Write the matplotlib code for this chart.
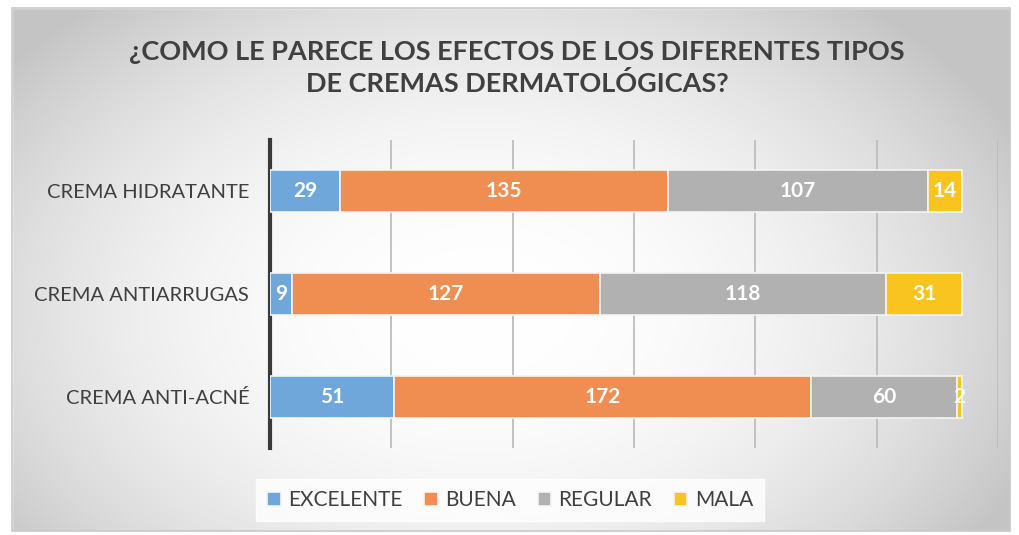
import numpy as np
import matplotlib.pyplot as plt
from matplotlib.patches import Rectangle

# __DATA__________________________
categorias = ['CREMA ANTI-ACNÉ', 'CREMA ANTIARRUGAS', 'CREMA HIDRATANTE']
series = ['EXCELENTE', 'BUENA', 'REGULAR', 'MALA']
excelente = [51, 9, 29]
buena = [172, 127, 135]
regular = [60, 118, 107]
mala = [2, 31, 14]
colores = ['#70A7DA', '#EF8E50', '#B1B1B1', '#F9C41F']

plt.rcParams['font.family'] = ['Lato', 'DejaVu Sans']

fig = plt.figure(figsize=(10.19, 5.35), dpi=100)

# __BACKGROUND__________________________
bg = fig.add_axes([0, 0, 1, 1], zorder=-10)
W, H = 1019, 535
yy, xx = np.mgrid[0:H, 0:W]
r = np.sqrt(((xx - 480) / 600.0) ** 2 + ((yy - 310) / 400.0) ** 2)
val = 1.0 - 0.23 * np.clip(r, 0, 1) ** 2.2
img = np.dstack([val, val, val])
bg.imshow(img, extent=[0, W, H, 0], aspect='auto', interpolation='bilinear')
# white outside the chart frame
bg.add_patch(Rectangle((0, 0), W, 8, color='white', zorder=2))
bg.add_patch(Rectangle((0, 0), 12, H, color='white', zorder=2))
bg.add_patch(Rectangle((1010, 0), 10, H, color='white', zorder=2))
bg.add_patch(Rectangle((0, 531), W, 5, color='white', zorder=2))
bg.add_patch(Rectangle((12, 8), 998, 523, fill=False, ec='#c8c8c8', lw=1.2, zorder=3))
bg.set_xlim(0, W)
bg.set_ylim(H, 0)
bg.axis('off')

# __BARS__________________________
ax = fig.add_axes([270 / W, 87 / H, 728 / W, 308 / H])
ax.patch.set_alpha(0)
ypos = np.arange(len(categorias))
valores = [excelente, buena, regular, mala]
left = np.zeros(len(categorias))
for nombre, vals, col in zip(series, valores, colores):
    vals = np.array(vals)
    ax.barh(ypos, vals, left=left, height=0.41, color=col, edgecolor='#f4f4f4',
            lw=1.2, label=nombre, zorder=3)
    for y, v, l in zip(ypos, vals, left):
        ax.text(l + v / 2, y, str(v), ha='center', va='center', color='white',
                fontsize=15, fontweight='bold', zorder=4)
    left = left + vals

ax.set_xlim(0, 300)
ax.set_ylim(-0.5, 2.5)
ax.set_xticks(np.arange(50, 301, 50))
ax.xaxis.grid(True, color='#bdbdbd', lw=1.3, zorder=0)
ax.tick_params(axis='x', length=0, labelbottom=False)
ax.tick_params(axis='y', length=0, pad=15)
ax.set_yticks(ypos)
ax.set_yticklabels(categorias, fontsize=14.5, color='#404040')
for s in ['top', 'right', 'bottom']:
    ax.spines[s].set_visible(False)
ax.spines['left'].set_color('#3a3a3a')
ax.spines['left'].set_linewidth(3)

# __TITLE__________________________
fig.text(517 / W, 1 - 68 / H, '¿COMO LE PARECE LOS EFECTOS DE LOS DIFERENTES TIPOS\nDE CREMAS DERMATOLÓGICAS?',
         ha='center', va='center', fontsize=19.5, fontweight='bold', color='#404040',
         linespacing=1.3)

# __LEGEND__________________________
leg = fig.legend(loc='center', bbox_to_anchor=(510 / W, 1 - 500 / H), ncol=4, frameon=True,
                 fontsize=15, handlelength=0.65, handleheight=0.65, handletextpad=0.35,
                 columnspacing=1.05, fancybox=False, borderpad=0.55)
leg.get_frame().set_facecolor('white')
leg.get_frame().set_edgecolor('white')
for t in leg.get_texts():
    t.set_color('#404040')

fig.savefig('out.png', dpi=100)
